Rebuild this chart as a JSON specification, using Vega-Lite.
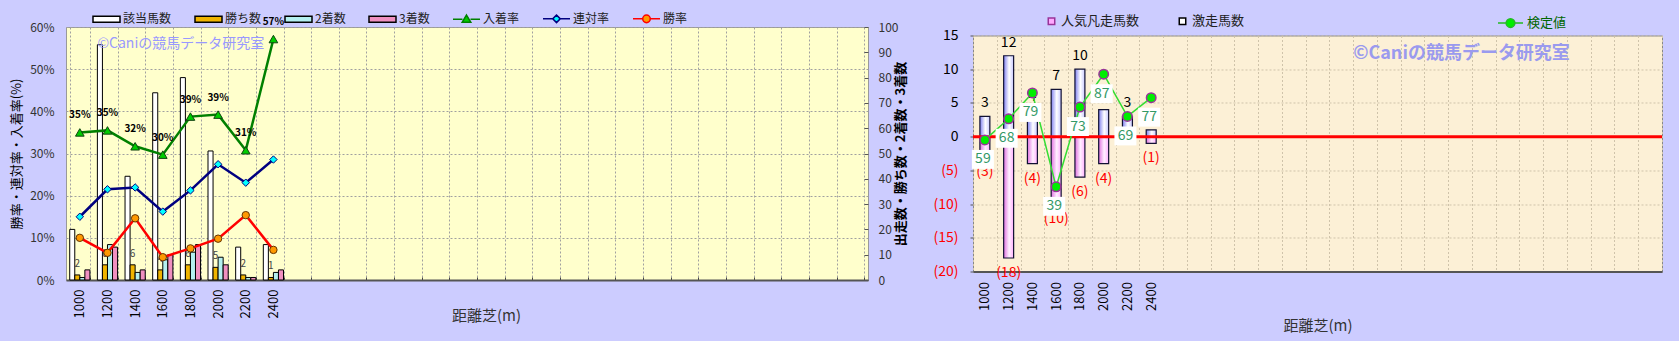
{
  "$schema": "https://vega.github.io/schema/vega-lite/v6.json",
  "background": "#CCCCFF",
  "padding": {"left": 10, "top": 3, "right": 16, "bottom": 11},
  "bounds": "flush",
  "spacing": 105,
  "center": true,
  "config": {
    "font": "Noto Sans CJK JP",
    "axis": {"labelFont": "Noto Sans CJK JP", "titleFont": "Noto Sans CJK JP", "labelOverlap": false, "labelFlush": false, "labelSeparation": 0},
    "legend": {"labelFont": "Noto Sans CJK JP"},
    "text": {"font": "Noto Sans CJK JP"}
  },
  "resolve": {
    "scale": {"color": "independent", "fill": "independent", "stroke": "independent", "shape": "independent", "xOffset": "independent", "x": "independent", "y": "independent"},
    "legend": {"color": "independent", "fill": "independent", "stroke": "independent", "shape": "independent"}
  },
  "datasets": {
    "counts": [
      {"dist": "1000", "item": "該当馬数", "n": 20}, {"dist": "1000", "item": "勝ち数", "n": 2}, {"dist": "1000", "item": "2着数", "n": 1}, {"dist": "1000", "item": "3着数", "n": 4},
      {"dist": "1200", "item": "該当馬数", "n": 93}, {"dist": "1200", "item": "勝ち数", "n": 6}, {"dist": "1200", "item": "2着数", "n": 14}, {"dist": "1200", "item": "3着数", "n": 13},
      {"dist": "1400", "item": "該当馬数", "n": 41}, {"dist": "1400", "item": "勝ち数", "n": 6}, {"dist": "1400", "item": "2着数", "n": 3}, {"dist": "1400", "item": "3着数", "n": 4},
      {"dist": "1600", "item": "該当馬数", "n": 74}, {"dist": "1600", "item": "勝ち数", "n": 4}, {"dist": "1600", "item": "2着数", "n": 8}, {"dist": "1600", "item": "3着数", "n": 10},
      {"dist": "1800", "item": "該当馬数", "n": 80}, {"dist": "1800", "item": "勝ち数", "n": 6}, {"dist": "1800", "item": "2着数", "n": 11}, {"dist": "1800", "item": "3着数", "n": 14},
      {"dist": "2000", "item": "該当馬数", "n": 51}, {"dist": "2000", "item": "勝ち数", "n": 5}, {"dist": "2000", "item": "2着数", "n": 9}, {"dist": "2000", "item": "3着数", "n": 6},
      {"dist": "2200", "item": "該当馬数", "n": 13}, {"dist": "2200", "item": "勝ち数", "n": 2}, {"dist": "2200", "item": "2着数", "n": 1}, {"dist": "2200", "item": "3着数", "n": 1},
      {"dist": "2400", "item": "該当馬数", "n": 14}, {"dist": "2400", "item": "勝ち数", "n": 1}, {"dist": "2400", "item": "2着数", "n": 3}, {"dist": "2400", "item": "3着数", "n": 4}
    ],
    "rates": [
      {"dist": "1000", "item": "入着率", "rate": 0.35}, {"dist": "1200", "item": "入着率", "rate": 0.3548}, {"dist": "1400", "item": "入着率", "rate": 0.3171}, {"dist": "1600", "item": "入着率", "rate": 0.2973},
      {"dist": "1800", "item": "入着率", "rate": 0.3875}, {"dist": "2000", "item": "入着率", "rate": 0.3922}, {"dist": "2200", "item": "入着率", "rate": 0.3077}, {"dist": "2400", "item": "入着率", "rate": 0.5714},
      {"dist": "1000", "item": "連対率", "rate": 0.15}, {"dist": "1200", "item": "連対率", "rate": 0.2151}, {"dist": "1400", "item": "連対率", "rate": 0.2195}, {"dist": "1600", "item": "連対率", "rate": 0.1622},
      {"dist": "1800", "item": "連対率", "rate": 0.2125}, {"dist": "2000", "item": "連対率", "rate": 0.2745}, {"dist": "2200", "item": "連対率", "rate": 0.2308}, {"dist": "2400", "item": "連対率", "rate": 0.2857},
      {"dist": "1000", "item": "勝率", "rate": 0.1}, {"dist": "1200", "item": "勝率", "rate": 0.0645}, {"dist": "1400", "item": "勝率", "rate": 0.1463}, {"dist": "1600", "item": "勝率", "rate": 0.0541},
      {"dist": "1800", "item": "勝率", "rate": 0.075}, {"dist": "2000", "item": "勝率", "rate": 0.098}, {"dist": "2200", "item": "勝率", "rate": 0.1538}, {"dist": "2400", "item": "勝率", "rate": 0.0714}
    ],
    "kentei": [
      {"dist": "1000", "gekisou": 3, "bonsou": -3, "kentei": 59},
      {"dist": "1200", "gekisou": 12, "bonsou": -18, "kentei": 68},
      {"dist": "1400", "gekisou": 4, "bonsou": -4, "kentei": 79},
      {"dist": "1600", "gekisou": 7, "bonsou": -10, "kentei": 39},
      {"dist": "1800", "gekisou": 10, "bonsou": -6, "kentei": 73},
      {"dist": "2000", "gekisou": 4, "bonsou": -4, "kentei": 87},
      {"dist": "2200", "gekisou": 3, "bonsou": 0, "kentei": 69},
      {"dist": "2400", "gekisou": 1, "bonsou": -1, "kentei": 77}
    ],
    "marks": [{"label": "©Caniの競馬データ研究室"}]
  },
  "hconcat": [
    {
      "width": 802,
      "height": 253,
      "view": {"fill": "#FFFFCC", "stroke": "#999999", "strokeWidth": 1},
      "resolve": {"scale": {"y": "independent"}},
      "layer": [
        {
          "layer": [
            {
              "data": {"name": "counts"},
              "mark": {"type": "bar", "stroke": "#000000", "strokeWidth": 1},
              "encoding": {
                "x": {"field": "dist", "type": "nominal", "title": "距離芝(m)",
                  "scale": {"domain": ["1000","1200","1400","1600","1800","2000","2200","2400","2600","2800","3000","3200","3400","3600","3800","4000","4200","4400","4600","4800","5000","5200","5400","5600","5800","6000","6200","6400","6600"], "paddingInner": 0.27, "paddingOuter": 0.135},
                  "axis": {"labelExpr": "toNumber(datum.value) <= 2400 ? datum.label : ''", "labelAngle": -90, "labelFontSize": 13, "labelColor": "#000000", "labelPadding": 12, "tickBand": "extent", "tickSize": -3, "tickColor": "#444444", "grid": true, "gridColor": "#A0A0A0", "gridDash": [2, 2], "gridWidth": 1, "domainColor": "#555555", "domainWidth": 2, "titleFontSize": 15, "titleFontWeight": "normal", "titleColor": "#333333", "titleX": 420, "titleY": 28, "titleBaseline": "top"}},
                "xOffset": {"field": "item", "type": "nominal", "scale": {"domain": ["該当馬数","勝ち数","2着数","3着数"], "paddingInner": 0, "paddingOuter": 0}},
                "y": {"field": "n", "type": "quantitative", "scale": {"domain": [0, 100], "nice": false},
                  "axis": {"orient": "right", "values": [0,10,20,30,40,50,60,70,80,90,100], "tickCount": 11, "labelOverlap": false, "labelFlush": false, "grid": false, "domain": false, "tickSize": -4, "tickColor": "#555555", "labelPadding": 14, "labelFontSize": 12, "labelColor": "#333333", "title": "出走数・勝ち数・2着数・3着数", "titleAngle": 270, "titleFontSize": 13, "titleFontWeight": "bold", "titleColor": "#000000", "titlePadding": 10}},
                "color": {"field": "item", "type": "nominal", "legend": null,
                  "scale": {"domain": ["入着率","連対率","勝率","該当馬数","勝ち数","2着数","3着数"], "range": ["#008000","#000080","#FF0000","#FFFFFF","#F0B400","#B4F0F0","#F090C0"]}}
              }
            },
            {
              "data": {"name": "counts"},
              "transform": [{"filter": "datum.item === '勝ち数'"}],
              "mark": {"type": "text", "dy": -11, "fontSize": 10, "color": "#444444"},
              "encoding": {
                "x": {"field": "dist", "type": "nominal", "scale": {"domain": ["1000","1200","1400","1600","1800","2000","2200","2400","2600","2800","3000","3200","3400","3600","3800","4000","4200","4400","4600","4800","5000","5200","5400","5600","5800","6000","6200","6400","6600"]}},
                "xOffset": {"field": "item", "type": "nominal", "scale": {"domain": ["該当馬数","勝ち数","2着数","3着数"]}},
                "y": {"field": "n", "type": "quantitative"},
                "text": {"field": "n", "type": "quantitative"}
              }
            }
          ]
        },
        {
          "layer": [
            {
              "data": {"name": "rates"},
              "mark": {"type": "line", "strokeWidth": 2.5},
              "encoding": {
                "x": {"field": "dist", "type": "nominal", "scale": {"domain": ["1000","1200","1400","1600","1800","2000","2200","2400","2600","2800","3000","3200","3400","3600","3800","4000","4200","4400","4600","4800","5000","5200","5400","5600","5800","6000","6200","6400","6600"]}},
                "y": {"field": "rate", "type": "quantitative", "scale": {"domain": [0, 0.6], "nice": false},
                  "axis": {"orient": "left", "values": [0,0.1,0.2,0.3,0.4,0.5,0.6], "format": ".0%", "labelOverlap": false, "labelFlush": false, "grid": true, "gridColor": "#A0A0A0", "gridDash": [2, 2], "domain": false, "tickSize": 0, "labelPadding": 12, "labelFontSize": 12, "labelColor": "#333333", "title": "勝率・連対率・入着率(%)", "titleFontSize": 13, "titleFontWeight": "normal", "titleColor": "#000000", "titlePadding": 6}},
                "color": {"field": "item", "type": "nominal", "legend": null,
                  "scale": {"domain": ["入着率","連対率","勝率","該当馬数","勝ち数","2着数","3着数"], "range": ["#008000","#000080","#FF0000","#FFFFFF","#F0B400","#B4F0F0","#F090C0"]}}
              }
            },
            {
              "data": {"name": "rates"},
              "transform": [{"filter": "datum.item === '入着率'"}],
              "mark": {"type": "point", "shape": "triangle-up", "filled": true, "fill": "#00CC00", "stroke": "#114411", "strokeWidth": 1, "size": 75, "opacity": 1},
              "encoding": {"x": {"field": "dist", "type": "nominal", "scale": {"domain": ["1000","1200","1400","1600","1800","2000","2200","2400","2600","2800","3000","3200","3400","3600","3800","4000","4200","4400","4600","4800","5000","5200","5400","5600","5800","6000","6200","6400","6600"]}}, "y": {"field": "rate", "type": "quantitative"}}
            },
            {
              "data": {"name": "rates"},
              "transform": [{"filter": "datum.item === '連対率'"}],
              "mark": {"type": "point", "shape": "diamond", "filled": true, "fill": "#00FFFF", "stroke": "#000080", "strokeWidth": 1, "size": 55, "opacity": 1},
              "encoding": {"x": {"field": "dist", "type": "nominal", "scale": {"domain": ["1000","1200","1400","1600","1800","2000","2200","2400","2600","2800","3000","3200","3400","3600","3800","4000","4200","4400","4600","4800","5000","5200","5400","5600","5800","6000","6200","6400","6600"]}}, "y": {"field": "rate", "type": "quantitative"}}
            },
            {
              "data": {"name": "rates"},
              "transform": [{"filter": "datum.item === '勝率'"}],
              "mark": {"type": "point", "shape": "circle", "filled": true, "fill": "#FF9900", "stroke": "#663300", "strokeWidth": 1, "size": 55, "opacity": 1},
              "encoding": {"x": {"field": "dist", "type": "nominal", "scale": {"domain": ["1000","1200","1400","1600","1800","2000","2200","2400","2600","2800","3000","3200","3400","3600","3800","4000","4200","4400","4600","4800","5000","5200","5400","5600","5800","6000","6200","6400","6600"]}}, "y": {"field": "rate", "type": "quantitative"}}
            },
            {
              "data": {"name": "rates"},
              "transform": [{"filter": "datum.item === '入着率'"}],
              "mark": {"type": "text", "dy": -17, "fontSize": 10, "fontWeight": "bold", "color": "#000000"},
              "encoding": {"x": {"field": "dist", "type": "nominal", "scale": {"domain": ["1000","1200","1400","1600","1800","2000","2200","2400","2600","2800","3000","3200","3400","3600","3800","4000","4200","4400","4600","4800","5000","5200","5400","5600","5800","6000","6200","6400","6600"]}}, "y": {"field": "rate", "type": "quantitative"}, "text": {"field": "rate", "type": "quantitative", "format": ".0%"}}
            },
            {
              "data": {"name": "marks"},
              "mark": {"type": "text", "align": "left", "baseline": "middle", "fontSize": 14, "color": "#9999FF"},
              "encoding": {
                "x": {"datum": "1200", "type": "nominal", "bandPosition": 0, "scale": {"domain": ["1000","1200","1400","1600","1800","2000","2200","2400","2600","2800","3000","3200","3400","3600","3800","4000","4200","4400","4600","4800","5000","5200","5400","5600","5800","6000","6200","6400","6600"]}},
                "y": {"datum": 0.56, "type": "quantitative"},
                "text": {"field": "label", "type": "nominal"}
              }
            },
            {
              "data": {"name": "rates"},
              "transform": [{"filter": "datum.rate < 0"}],
              "mark": {"type": "point", "filled": true, "opacity": 1},
              "encoding": {
                "fill": {"field": "item", "type": "nominal",
                  "scale": {"domain": ["該当馬数","勝ち数","2着数","3着数","入着率","連対率","勝率"], "range": ["#FFFFFF","#F0B400","#B4F0F0","#F090C0","#00CC00","#00FFFF","#FF9900"]},
                  "legend": {"orient": "none", "legendX": 26, "legendY": -23, "direction": "horizontal", "title": null, "padding": 0, "columnPadding": 20, "symbolSize": 729, "symbolStrokeWidth": 1.5, "labelFontSize": 12, "labelColor": "#222222", "labelOffset": 2}},
                "stroke": {"field": "item", "type": "nominal",
                  "scale": {"domain": ["該当馬数","勝ち数","2着数","3着数","入着率","連対率","勝率"], "range": ["#000000","#000000","#000000","#000000","#008000","#000080","#FF0000"]},
                  "legend": {"orient": "none", "legendX": 26, "legendY": -23, "direction": "horizontal", "title": null, "padding": 0, "columnPadding": 20, "symbolSize": 729, "symbolStrokeWidth": 1.5, "labelFontSize": 12, "labelColor": "#222222", "labelOffset": 2}},
                "shape": {"field": "item", "type": "nominal",
                  "scale": {"domain": ["該当馬数","勝ち数","2着数","3着数","入着率","連対率","勝率"], "range": [
                    "M-1,-0.22H1V0.22H-1Z", "M-1,-0.22H1V0.22H-1Z", "M-1,-0.22H1V0.22H-1Z", "M-1,-0.22H1V0.22H-1Z",
                    "M-1,0H-0.3M0.3,0H1M0,-0.3L0.32,0.24H-0.32Z",
                    "M-1,0H-0.28M0.28,0H1M0,-0.28L0.28,0L0,0.28L-0.28,0Z",
                    "M-1,0H-0.28M0.28,0H1M-0.28,0A0.28,0.28 0 1 0 0.28,0A0.28,0.28 0 1 0 -0.28,0Z"]},
                  "legend": {"orient": "none", "legendX": 26, "legendY": -23, "direction": "horizontal", "title": null, "padding": 0, "columnPadding": 20, "symbolSize": 729, "symbolStrokeWidth": 1.5, "labelFontSize": 12, "labelColor": "#222222", "labelOffset": 2}}
              }
            }
          ]
        }
      ]
    },
    {
      "width": 689,
      "height": 236,
      "view": {"fill": "#FCF0D6", "stroke": "#888888", "strokeWidth": 1},
      "resolve": {"scale": {"y": "independent", "fill": "independent", "stroke": "independent", "shape": "independent"}},
      "layer": [
        {
          "layer": [
            {
              "data": {"name": "kentei"},
              "mark": {"type": "bar", "width": {"band": 0.42}, "stroke": "#111133", "strokeWidth": 1.2,
                "fill": {"gradient": "linear", "x1": 0, "y1": 0, "x2": 1, "y2": 0, "stops": [{"offset": 0, "color": "#8080F0"}, {"offset": 0.55, "color": "#FFFFFF"}, {"offset": 1, "color": "#C8C8FF"}]}},
              "encoding": {
                "x": {"field": "dist", "type": "nominal", "title": "距離芝(m)",
                  "scale": {"domain": ["1000","1200","1400","1600","1800","2000","2200","2400","2600","2800","3000","3200","3400","3600","3800","4000","4200","4400","4600","4800","5000","5200","5400","5600","5800","6000","6200","6400","6600"], "paddingInner": 0, "paddingOuter": 0},
                  "axis": {"labelExpr": "toNumber(datum.value) <= 2400 ? datum.label : ''", "labelAngle": -90, "labelFontSize": 13, "labelColor": "#000000", "labelPadding": 10, "tickBand": "extent", "ticks": false, "grid": true, "gridColor": "#CFC3AA", "gridDash": [2, 2], "gridWidth": 1, "domainColor": "#555555", "domainWidth": 2, "titleFontSize": 15, "titleFontWeight": "normal", "titleColor": "#333333", "titleY": 47, "titleBaseline": "top"}},
                "y": {"field": "gekisou", "type": "quantitative", "scale": {"domain": [-20, 15], "nice": false},
                  "axis": {"orient": "left", "values": [-20,-15,-10,-5,0,5,10,15], "tickCount": 8, "labelExpr": "datum.value < 0 ? '(' + abs(datum.value) + ')' : datum.label", "labelOverlap": false, "labelFlush": false, "labelBound": false, "labelSeparation": 0, "grid": true, "gridColor": "#CFC3AA", "gridDash": [2, 2], "domain": false, "tickSize": 3, "tickColor": "#555555", "labelPadding": 12, "labelFontSize": 14, "title": null,
                    "labelColor": {"condition": {"test": "datum.value < 0", "value": "#FF0000"}, "value": "#000000"}}}
              }
            },
            {
              "data": {"name": "kentei"},
              "mark": {"type": "bar", "width": {"band": 0.42}, "stroke": "#111133", "strokeWidth": 1.2,
                "fill": {"gradient": "linear", "x1": 0, "y1": 0, "x2": 1, "y2": 0, "stops": [{"offset": 0, "color": "#E070E0"}, {"offset": 0.55, "color": "#FFF0FF"}, {"offset": 1, "color": "#FFB0FF"}]}},
              "encoding": {
                "x": {"field": "dist", "type": "nominal", "scale": {"domain": ["1000","1200","1400","1600","1800","2000","2200","2400","2600","2800","3000","3200","3400","3600","3800","4000","4200","4400","4600","4800","5000","5200","5400","5600","5800","6000","6200","6400","6600"]}},
                "y": {"field": "bonsou", "type": "quantitative"}
              }
            },
            {
              "data": {"name": "kentei"},
              "transform": [{"filter": "datum.gekisou > 0"}],
              "mark": {"type": "text", "dy": -13, "fontSize": 14, "color": "#000000"},
              "encoding": {
                "x": {"field": "dist", "type": "nominal", "scale": {"domain": ["1000","1200","1400","1600","1800","2000","2200","2400","2600","2800","3000","3200","3400","3600","3800","4000","4200","4400","4600","4800","5000","5200","5400","5600","5800","6000","6200","6400","6600"]}},
                "y": {"field": "gekisou", "type": "quantitative"},
                "text": {"field": "gekisou", "type": "quantitative"}
              }
            },
            {
              "data": {"name": "kentei"},
              "transform": [{"filter": "datum.bonsou < 0"}],
              "mark": {"type": "text", "dy": 15, "fontSize": 14, "color": "#FF0000"},
              "encoding": {
                "x": {"field": "dist", "type": "nominal", "scale": {"domain": ["1000","1200","1400","1600","1800","2000","2200","2400","2600","2800","3000","3200","3400","3600","3800","4000","4200","4400","4600","4800","5000","5200","5400","5600","5800","6000","6200","6400","6600"]}},
                "y": {"field": "bonsou", "type": "quantitative"},
                "text": {"field": "bonsou", "type": "quantitative", "format": "("}
              }
            },
            {
              "data": {"name": "marks"},
              "mark": {"type": "rule", "color": "#FF0000", "strokeWidth": 3},
              "encoding": {"y": {"datum": 0, "type": "quantitative"}}
            },
            {
              "data": {"name": "marks"},
              "mark": {"type": "text", "align": "left", "baseline": "middle", "fontSize": 18, "fontWeight": "bold", "color": "#9A9AEE"},
              "encoding": {
                "x": {"datum": "4200", "type": "nominal", "bandPosition": 0, "scale": {"domain": ["1000","1200","1400","1600","1800","2000","2200","2400","2600","2800","3000","3200","3400","3600","3800","4000","4200","4400","4600","4800","5000","5200","5400","5600","5800","6000","6200","6400","6600"]}},
                "y": {"datum": 12.3, "type": "quantitative"},
                "text": {"field": "label", "type": "nominal"}
              }
            },
            {
              "data": {"name": "kentei"},
              "transform": [{"filter": "datum.kentei < 0"}],
              "mark": {"type": "point", "filled": true, "opacity": 1},
              "encoding": {
                "fill": {"field": "kind", "type": "nominal", "scale": {"domain": ["人気凡走馬数", "激走馬数"], "range": ["#FFA8FF", "#FFFFFF"]},
                  "legend": {"orient": "none", "legendX": 72, "legendY": -21, "direction": "horizontal", "title": null, "padding": 0, "columnPadding": 36, "symbolSize": 42, "symbolStrokeWidth": 1.5, "labelFontSize": 13, "labelColor": "#222222", "labelOffset": 3}},
                "stroke": {"field": "kind", "type": "nominal", "scale": {"domain": ["人気凡走馬数", "激走馬数"], "range": ["#993399", "#000000"]},
                  "legend": {"orient": "none", "legendX": 72, "legendY": -21, "direction": "horizontal", "title": null, "padding": 0, "columnPadding": 36, "symbolSize": 42, "symbolStrokeWidth": 1.5, "labelFontSize": 13, "labelColor": "#222222", "labelOffset": 3}},
                "shape": {"field": "kind", "type": "nominal", "scale": {"domain": ["人気凡走馬数", "激走馬数"], "range": ["square", "square"]},
                  "legend": {"orient": "none", "legendX": 72, "legendY": -21, "direction": "horizontal", "title": null, "padding": 0, "columnPadding": 36, "symbolSize": 42, "symbolStrokeWidth": 1.5, "labelFontSize": 13, "labelColor": "#222222", "labelOffset": 3}}
              }
            }
          ]
        },
        {
          "layer": [
            {
              "data": {"name": "kentei"},
              "mark": {"type": "line", "color": "#33DD33", "strokeWidth": 1.5},
              "encoding": {
                "x": {"field": "dist", "type": "nominal", "scale": {"domain": ["1000","1200","1400","1600","1800","2000","2200","2400","2600","2800","3000","3200","3400","3600","3800","4000","4200","4400","4600","4800","5000","5200","5400","5600","5800","6000","6200","6400","6600"]}},
                "y": {"field": "kentei", "type": "quantitative", "scale": {"domain": [2.9, 103.5], "nice": false, "zero": false}, "axis": null}
              }
            },
            {
              "data": {"name": "kentei"},
              "mark": {"type": "point", "filled": true, "fill": "#00EE00", "stroke": "#993399", "strokeWidth": 1.5, "size": 90, "opacity": 1},
              "encoding": {
                "x": {"field": "dist", "type": "nominal", "scale": {"domain": ["1000","1200","1400","1600","1800","2000","2200","2400","2600","2800","3000","3200","3400","3600","3800","4000","4200","4400","4600","4800","5000","5200","5400","5600","5800","6000","6200","6400","6600"]}},
                "y": {"field": "kentei", "type": "quantitative"}
              }
            },
            {
              "data": {"name": "kentei"},
              "mark": {"type": "point", "shape": "M-1,-0.86H1V0.86H-1Z", "filled": true, "fill": "#FFFFFF", "strokeWidth": 0, "size": 484, "opacity": 1, "yOffset": 19.5, "xOffset": -2},
              "encoding": {
                "x": {"field": "dist", "type": "nominal", "scale": {"domain": ["1000","1200","1400","1600","1800","2000","2200","2400","2600","2800","3000","3200","3400","3600","3800","4000","4200","4400","4600","4800","5000","5200","5400","5600","5800","6000","6200","6400","6600"]}},
                "y": {"field": "kentei", "type": "quantitative"}
              }
            },
            {
              "data": {"name": "kentei"},
              "mark": {"type": "text", "dy": 19.5, "dx": -2, "fontSize": 14, "color": "#339966"},
              "encoding": {
                "x": {"field": "dist", "type": "nominal", "scale": {"domain": ["1000","1200","1400","1600","1800","2000","2200","2400","2600","2800","3000","3200","3400","3600","3800","4000","4200","4400","4600","4800","5000","5200","5400","5600","5800","6000","6200","6400","6600"]}},
                "y": {"field": "kentei", "type": "quantitative"},
                "text": {"field": "kentei", "type": "quantitative"}
              }
            },
            {
              "data": {"name": "kentei"},
              "transform": [{"filter": "datum.kentei < 0"}],
              "mark": {"type": "point", "filled": true, "opacity": 1},
              "encoding": {
                "fill": {"field": "kline", "type": "nominal", "scale": {"domain": ["検定値"], "range": ["#00EE00"]},
                  "legend": {"orient": "none", "legendX": 524, "legendY": -26, "title": null, "padding": 0, "symbolSize": 625, "symbolStrokeWidth": 1.5, "labelFontSize": 13, "labelColor": "#006600", "labelOffset": 3}},
                "stroke": {"field": "kline", "type": "nominal", "scale": {"domain": ["検定値"], "range": ["#22BB22"]},
                  "legend": {"orient": "none", "legendX": 524, "legendY": -26, "title": null, "padding": 0, "symbolSize": 625, "symbolStrokeWidth": 1.5, "labelFontSize": 13, "labelColor": "#006600", "labelOffset": 3}},
                "shape": {"field": "kline", "type": "nominal", "scale": {"domain": ["検定値"], "range": ["M-1,0H-0.35M0.35,0H1M-0.35,0A0.35,0.35 0 1 0 0.35,0A0.35,0.35 0 1 0 -0.35,0Z"]},
                  "legend": {"orient": "none", "legendX": 524, "legendY": -26, "title": null, "padding": 0, "symbolSize": 625, "symbolStrokeWidth": 1.5, "labelFontSize": 13, "labelColor": "#006600", "labelOffset": 3}}
              }
            }
          ]
        }
      ]
    }
  ]
}
